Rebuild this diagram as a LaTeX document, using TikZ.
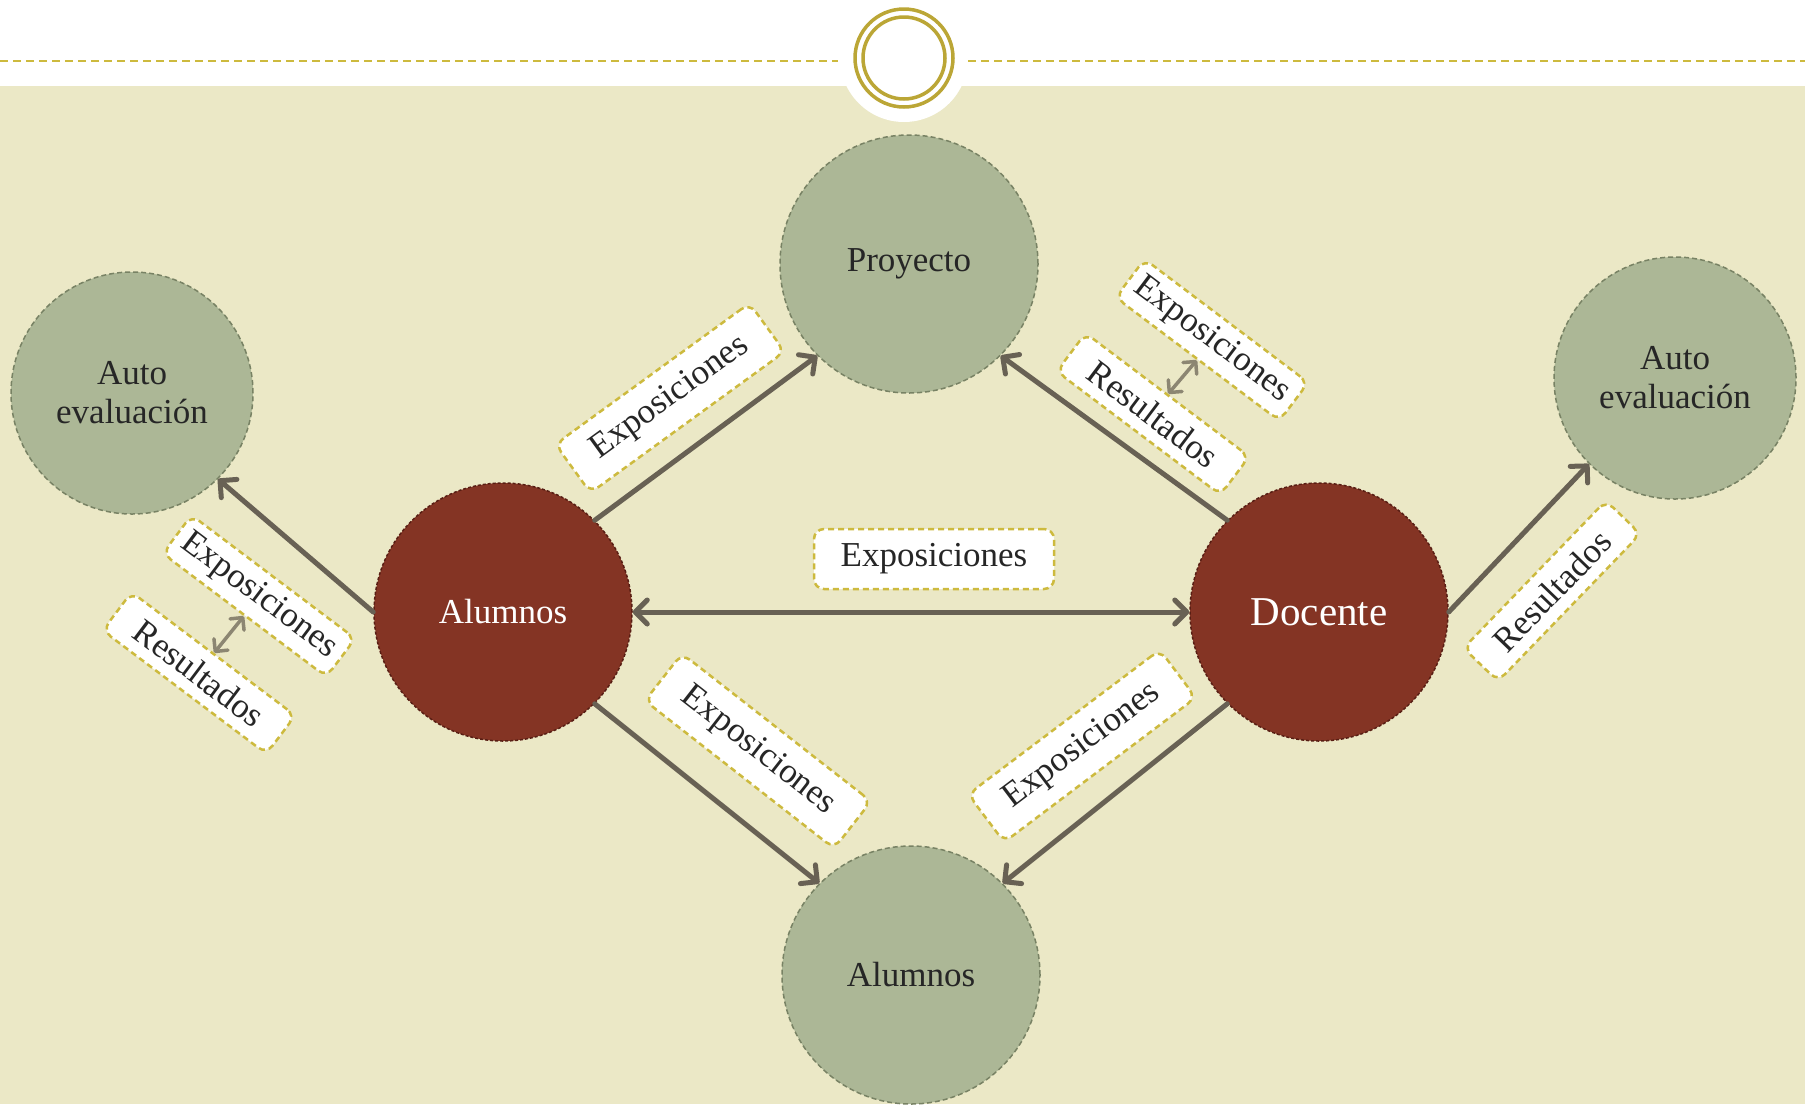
\documentclass[tikz,border=0pt]{standalone}
\usepackage{fontspec}
\setmainfont{Liberation Serif}
\usetikzlibrary{arrows.meta}
\definecolor{fondo}{RGB}{235,232,198}
\definecolor{verde}{RGB}{172,183,150}
\definecolor{verdeborde}{RGB}{120,130,100}
\definecolor{rojo}{RGB}{132,52,36}
\definecolor{rojoborde}{RGB}{88,30,20}
\definecolor{flechagris}{RGB}{104,97,84}
\definecolor{minigris}{RGB}{140,134,114}
\definecolor{amarillo}{RGB}{205,186,62}
\definecolor{anillo}{RGB}{187,166,54}
\definecolor{texto}{RGB}{38,38,38}
\begin{document}
\begin{tikzpicture}[
    x=1pt, y=-1pt,
    every node/.style={align=center, text=texto, font=\fontsize{35}{39}\selectfont},
    circulo verde/.style={circle, fill=verde, draw=verdeborde, dash pattern=on 5pt off 3pt, line width=1.5pt, minimum size=258pt, inner sep=0pt},
    circulo rojo/.style={circle, fill=rojo, draw=rojoborde, dash pattern=on 3pt off 2pt, line width=1.5pt, minimum size=258pt, inner sep=0pt, text=white},
    etiqueta/.style={draw=amarillo, fill=white, dash pattern=on 6pt off 4pt, line width=2.5pt, rounded corners=10pt, minimum width=205pt, minimum height=48pt, inner sep=0pt},
    etiqueta grande/.style={etiqueta, minimum width=240pt, minimum height=60pt},
    punta/.tip={Straight Barb[length=12pt, width=24pt, round]},
    flecha/.style={draw=flechagris, line width=5pt, line cap=round, -punta},
    doble flecha/.style={flecha, punta-punta},
    mini flecha/.style={draw=minigris, line width=3.5pt, line cap=round, {Straight Barb[length=9pt, width=18pt, round]}-{Straight Barb[length=9pt, width=18pt, round]}},
    ]
% fondo y cabecera
\fill[white] (0,0) rectangle (1805,1104);
\fill[fondo] (0,86) rectangle (1805,1104);
\useasboundingbox (0,0) rectangle (1805,1104);
\draw[amarillo, line width=2pt, dash pattern=on 8pt off 5pt] (0,61) -- (838,61);
\draw[amarillo, line width=2pt, dash pattern=on 8pt off 5pt] (968,61) -- (1805,61);
\fill[white] (904,58) circle (64pt);
\draw[anillo, line width=3.5pt] (904,58) circle (49pt);
\draw[anillo, line width=3.5pt] (904,58) circle (41pt);
\clip (0,0) rectangle (1805,1104);
% circulos
\node[circulo verde] (Proyecto) at (909,264) {Proyecto};
\node[circulo verde, minimum size=242pt] (AutoL) at (132,393) {Auto\\evaluación};
\node[circulo verde, minimum size=242pt] (AutoR) at (1675,378) {Auto\\evaluación};
\node[circulo rojo] (Alumnos) at (503,612) {Alumnos};
\node[circulo rojo, font=\fontsize{41}{45}\selectfont] (Docente) at (1319,612) {Docente};
\node[circulo verde] (AlumnosB) at (911,975) {Alumnos};
% flechas
\draw[flecha] (Alumnos.45) -- (Proyecto.225);
\draw[flecha] (Docente.135) -- (Proyecto.315);
\draw[flecha] (Alumnos.west) -- (AutoL.south east);
\draw[flecha] (Docente.east) -- (AutoR.south west);
\draw[doble flecha] (Alumnos.east) -- (Docente.west);
\draw[flecha] (Alumnos.-45) -- (AlumnosB.135);
\draw[flecha] (Docente.225) -- (AlumnosB.45);
% etiquetas
\node[etiqueta grande] (ExpoC) at (934,559) {Exposiciones};
\node[etiqueta grande, rotate=36] (ExpoAP) at (670,398) {Exposiciones};
\node[etiqueta, rotate=-37] (ExpoDP) at (1212,340) {Exposiciones};
\node[etiqueta, rotate=-37] (ResDP) at (1153,414) {Resultados};
\node[etiqueta, rotate=-37] (ExpoAL) at (259,596) {Exposiciones};
\node[etiqueta, rotate=-37] (ResAL) at (199,673) {Resultados};
\node[etiqueta grande, rotate=-38] (ExpoAB) at (758,751) {Exposiciones};
\node[etiqueta grande, rotate=37] (ExpoDB) at (1082,746) {Exposiciones};
\node[etiqueta, rotate=46] (ResDR) at (1552,591) {Resultados};
\draw[mini flecha] (ExpoDP.south) -- (ResDP.north);
\draw[mini flecha] (ExpoAL.south) -- (ResAL.north);
\end{tikzpicture}
\end{document}
